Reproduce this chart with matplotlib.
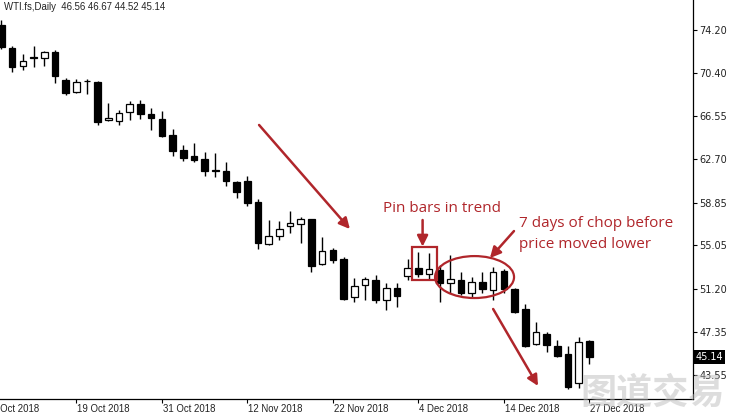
import matplotlib
matplotlib.use("Agg")
import matplotlib.pyplot as plt
from matplotlib.patches import Rectangle, Ellipse, FancyArrowPatch
import numpy as np

opens = [74.64, 72.63, 71.00, 71.80, 71.68, 72.27, 69.76, 68.69, 69.71, 69.55,
         66.17, 66.14, 66.94, 67.62, 66.73, 66.26, 64.87, 63.53, 63.00, 62.71,
         61.73, 61.67, 60.72, 60.80, 58.88, 55.18, 55.92, 56.78, 56.96, 57.37,
         53.37, 54.64, 53.82, 50.49, 51.53, 51.98, 50.20, 51.24, 52.36, 53.07,
         52.51, 52.87, 51.68, 51.98, 50.80, 51.83, 51.09, 52.80, 51.15, 49.40,
         46.29, 47.15, 46.14, 45.37, 42.80, 46.56]
highs = [75.09, 72.80, 72.04, 72.78, 72.33, 72.42, 69.96, 69.84, 69.82, 69.67,
         67.68, 67.09, 67.89, 67.98, 67.29, 67.00, 65.37, 63.98, 64.18, 63.36,
         63.27, 62.49, 60.80, 61.25, 59.15, 57.31, 57.22, 58.11, 57.60, 57.40,
         55.83, 54.85, 54.05, 52.18, 52.22, 52.42, 51.74, 51.74, 53.82, 54.49,
         54.35, 53.31, 54.20, 52.72, 52.27, 52.72, 53.16, 52.93, 51.24, 49.84,
         48.27, 47.38, 46.64, 46.11, 46.88, 46.67]
lows = [72.55, 70.49, 70.64, 70.88, 71.03, 69.46, 68.42, 68.57, 68.48, 65.76,
        66.11, 65.76, 66.20, 66.26, 65.31, 64.72, 63.03, 62.56, 62.49, 61.25,
        61.16, 60.33, 59.24, 58.58, 54.71, 55.09, 55.53, 56.13, 55.24, 52.72,
        53.30, 53.46, 50.20, 50.05, 50.20, 49.91, 49.31, 49.60, 51.98, 52.27,
        52.04, 50.05, 50.80, 50.64, 50.49, 50.80, 50.20, 50.80, 49.02, 46.05,
        46.20, 45.60, 45.11, 42.26, 42.35, 44.52]
closes = [72.65, 70.94, 71.47, 71.71, 72.22, 70.11, 68.63, 69.55, 69.64, 66.05,
          66.40, 66.85, 67.62, 66.71, 66.35, 64.80, 63.44, 62.80, 62.64, 61.69,
          61.67, 60.78, 59.83, 58.80, 55.24, 55.92, 56.48, 57.02, 57.37, 53.25,
          54.56, 53.76, 50.26, 51.47, 52.07, 50.20, 51.24, 50.58, 53.07, 52.48,
          52.93, 51.68, 52.04, 50.80, 51.83, 51.18, 52.72, 51.18, 49.11, 46.11,
          47.38, 46.20, 45.22, 42.49, 46.49, 45.14]

tick_idx = [-1, 7, 15, 23, 31, 39, 47, 55]
tick_labels = ["9 Oct 2018", "19 Oct 2018", "31 Oct 2018", "12 Nov 2018",
               "22 Nov 2018", "4 Dec 2018", "14 Dec 2018", "27 Dec 2018"]
price_ticks = [74.20, 70.40, 66.55, 62.70, 58.85, 55.05, 51.20, 47.35, 43.55]
price_labels = ["74.20", "70.40", "66.55", "62.70", "58.85", "55.05", "51.20", "47.35", "43.55"]
header = "WTI.fs,Daily  46.56 46.67 44.52 45.14"
last_price = 45.14

RED = "#b0262b"
SMALL_FONT = ["Liberation Sans", "DejaVu Sans"]

fig = plt.figure(figsize=(7.29, 4.15), dpi=100)
ax = fig.add_axes([0, 16 / 415, 693 / 729, 399 / 415])
ax.set_xlim(-0.14, 64.7)
ax.set_ylim(41.40, 76.87)

x = np.arange(len(opens))
o = np.array(opens); c = np.array(closes)
h = np.array(highs); l = np.array(lows)
ax.vlines(x, l, h, color="black", lw=1.0, zorder=2)
bottom = np.minimum(o, c)
height = np.maximum(np.abs(c - o), 0.05)
colors = ["white" if cc >= oo else "black" for oo, cc in zip(o, c)]
ax.bar(x, height, bottom=bottom, width=0.62, color=colors, edgecolor="black",
       linewidth=0.9, zorder=3)

for s in ["top", "left"]:
    ax.spines[s].set_visible(False)
for s in ["right", "bottom"]:
    ax.spines[s].set_color("black")
    ax.spines[s].set_linewidth(0.9)

ax.yaxis.tick_right()
ax.set_yticks(price_ticks)
ax.set_yticklabels(price_labels, fontsize=7, color="#222222")
ax.tick_params(axis="y", direction="out", length=3, width=0.8, pad=1.5)

ax.set_xticks(tick_idx[1:])
ax.set_xticklabels([])
ax.tick_params(axis="x", direction="out", length=3, width=0.8)
xt = ax.get_xaxis_transform()
for ti, tl in zip(tick_idx, tick_labels):
    ax.text(ti + 0.1, -0.012, tl, transform=xt, ha="left", va="top",
            fontsize=6.9, color="#222222", family=SMALL_FONT, clip_on=False)

fig.text(4 / 729, 1 - 2 / 415, header, ha="left", va="top", fontsize=6.9,
         color="#222222", family=SMALL_FONT)

ax.text(1.003, last_price, f"{last_price:.2f}", transform=ax.get_yaxis_transform(),
        ha="left", va="center", fontsize=7, color="white", clip_on=False,
        bbox=dict(facecolor="black", edgecolor="none", pad=1.6), zorder=6)

# annotations
def arrow(p0, p1):
    a = FancyArrowPatch(p0, p1, arrowstyle="-|>", mutation_scale=16,
                        color=RED, lw=1.8, zorder=5, shrinkA=0, shrinkB=0)
    ax.add_patch(a)

arrow((24.1, 65.76), (32.6, 56.51))
arrow((39.4, 57.31), (39.4, 54.95))
arrow((47.95, 56.33), (45.7, 53.93))
arrow((46.0, 49.4), (50.2, 42.56))

ax.add_patch(Rectangle((38.41, 51.98), 2.34, 2.93, fill=False, edgecolor=RED,
                       lw=1.6, zorder=5))
ax.add_patch(Ellipse((44.26, 52.24), 7.39, 3.73, fill=False, edgecolor=RED,
                     lw=1.6, zorder=5))

ax.text(35.7, 58.35, "Pin bars in trend", ha="left", va="center", fontsize=11,
        color=RED, family="Open Sans", zorder=6)
ax.text(48.4, 57.0, "7 days of chop before", ha="left", va="center",
        fontsize=11, color=RED, family="Open Sans", zorder=6)
ax.text(48.4, 55.1, "price moved lower", ha="left", va="center",
        fontsize=11, color=RED, family="Open Sans", zorder=6)

fig.text(653 / 729, 22 / 415, "图道交易", ha="center", va="center", fontsize=26,
         fontweight="bold", family=["Noto Sans CJK SC", "DejaVu Sans"],
         color="#bdbdbd", alpha=0.5, zorder=10)

fig.savefig("out.png", dpi=100)
